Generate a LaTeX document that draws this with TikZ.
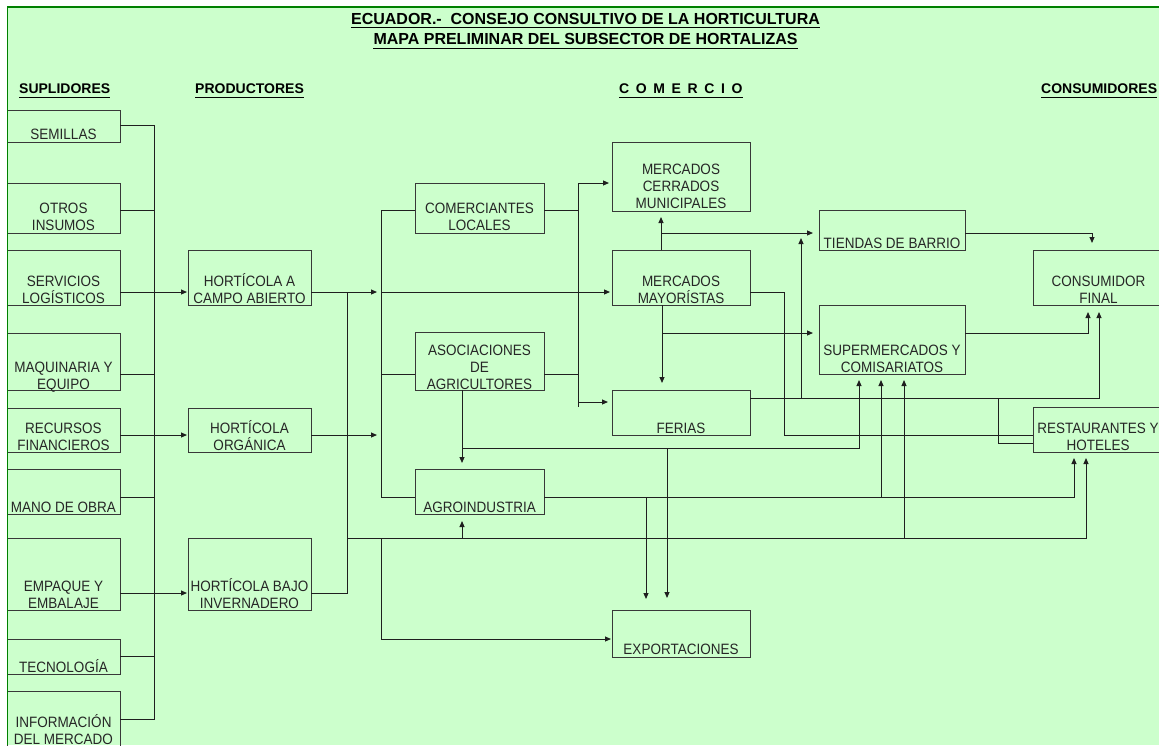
\documentclass[tikz,border=0pt]{standalone}
\usepackage{fontspec}
\setmainfont{Liberation Sans}
\newfontfamily\boxfont[FakeStretch=0.9]{Liberation Sans}
\usetikzlibrary{arrows.meta}
\definecolor{bg}{HTML}{CCFFCC}
\definecolor{frame}{HTML}{008000}
\definecolor{ink}{HTML}{262626}
\definecolor{edge}{HTML}{383838}
\newcommand\mkbox[5]{\node[box, minimum width={(#4)-(#2)}, minimum height={(#5)-(#3)}] (#1) at ({((#2)+(#4))/2},{((#3)+(#5))/2}) {};}
% #3 is the baseline of the LAST line of the text
\newcommand\mktext[4]{\node[txt] (#1-t) at (#2,#3) {#4};}
\tikzset{
  box/.style={draw=edge, line width=1pt, rectangle, inner sep=0pt, outer sep=0pt},
  txt/.style={anchor=base, align=center, text=ink, inner sep=0pt, font=\boxfont\fontsize{15}{17}\selectfont},
  hdr/.style={anchor=base west, inner sep=0pt, text=black, font=\bfseries\fontsize{14}{16}\selectfont},
  ttl/.style={anchor=base, inner sep=0pt, text=black, font=\bfseries\fontsize{16}{20}\selectfont},
  ulline/.style={draw=black, line width=1.4pt},
  conn/.style={draw=black!88, line width=1pt},
  arr/.style={conn, -{Triangle[length=6pt,width=5pt]}, shorten >=2pt},
  arrv/.style={arr, shorten >=6pt},
}
\begin{document}
\begin{tikzpicture}[x=1pt,y=-1pt]
\useasboundingbox (0,0) rectangle (1159,745);
\fill[white] (0,0) rectangle (1159,745);
\fill[bg] (7,6) rectangle (1159,745);

% column coordinates
\coordinate (busS) at (154,0);
\coordinate (busP) at (347,0);
\coordinate (busC) at (381,0);
\coordinate (busM) at (578,0);
\coordinate (colA) at (462,0);
\coordinate (colMC) at (661,0);
\coordinate (colFE) at (662,0);
\coordinate (colMR) at (784,0);
\coordinate (colT) at (801,0);
\coordinate (colR) at (998,0);
\coordinate (colE1) at (646,0);
\coordinate (colE2) at (667,0);
\coordinate (colS1) at (859,0);
\coordinate (colS2) at (881,0);
\coordinate (colS3) at (904,0);
\coordinate (colR1) at (1074,0);
\coordinate (colR2) at (1086,0);
\coordinate (colC0) at (1092,0);
\coordinate (colC1) at (1088,0);
\coordinate (colC2) at (1099,0);
\coordinate (tieL) at (801,238);

% boxes
\mkbox{sem}{7}{110}{120}{142}
\mkbox{otr}{7}{183}{120}{233}
\mkbox{ser}{7}{250}{120}{305}
\mkbox{maq}{7}{333}{120}{390}
\mkbox{rec}{7}{408}{120}{452}
\mkbox{man}{7}{469}{120}{514}
\mkbox{emp}{7}{538}{120}{610}
\mkbox{tec}{7}{639}{120}{674}
\mkbox{inf}{7}{691}{120}{760}
\mkbox{hca}{188}{250}{311}{305}
\mkbox{hor}{188}{408}{311}{452}
\mkbox{hbi}{188}{538}{311}{610}
\mkbox{com}{415}{183}{544}{233}
\mkbox{mcm}{612}{142}{750}{211}
\mkbox{mmy}{612}{250}{750}{305}
\mkbox{aso}{415}{332}{544}{390}
\mkbox{fer}{612}{390}{750}{435}
\mkbox{agr}{415}{469}{544}{514}
\mkbox{exp}{612}{610}{750}{657}
\mkbox{tie}{819}{210}{965}{250}
\mkbox{cfi}{1033}{250}{1164}{305}
\mkbox{sup}{819}{305}{965}{374}
\mkbox{res}{1033}{407}{1164}{452}

% box texts
\mktext{sem}{63.5}{139}{SEMILLAS}
\mktext{otr}{63.5}{230}{OTROS\\INSUMOS}
\mktext{ser}{63.5}{303}{SERVICIOS\\LOGÍSTICOS}
\mktext{maq}{63.5}{389}{MAQUINARIA Y\\EQUIPO}
\mktext{rec}{63.5}{450}{RECURSOS\\FINANCIEROS}
\mktext{man}{63.5}{512}{MANO DE OBRA}
\mktext{emp}{63.5}{608}{EMPAQUE Y\\EMBALAJE}
\mktext{tec}{63.5}{672}{TECNOLOGÍA}
\mktext{inf}{63.5}{744}{INFORMACIÓN\\DEL MERCADO}
\mktext{hca}{249.5}{303}{HORTÍCOLA A\\CAMPO ABIERTO}
\mktext{hor}{249.5}{450}{HORTÍCOLA\\ORGÁNICA}
\mktext{hbi}{249.5}{608}{HORTÍCOLA BAJO\\INVERNADERO}
\mktext{com}{479.5}{230}{COMERCIANTES\\LOCALES}
\mktext{mcm}{681}{208}{MERCADOS\\CERRADOS\\MUNICIPALES}
\mktext{mmy}{681}{303}{MERCADOS\\MAYORÍSTAS}
\mktext{aso}{479.5}{389}{ASOCIACIONES\\DE\\AGRICULTORES}
\mktext{fer}{681}{433}{FERIAS}
\mktext{agr}{479.5}{512}{AGROINDUSTRIA}
\mktext{exp}{681}{654}{EXPORTACIONES}
\mktext{tie}{892}{248}{TIENDAS DE BARRIO}
\mktext{cfi}{1098.5}{303}{CONSUMIDOR\\FINAL}
\mktext{sup}{892}{372}{SUPERMERCADOS Y\\COMISARIATOS}
\mktext{res}{1098}{450}{RESTAURANTES Y\\HOTELES}

% frame
\draw[frame, line width=2pt] (7,7) -- (1159,7);
\draw[frame, line width=1.5pt] (7.5,6) -- (7.5,745);

% title
\node[ttl] (t1) at (585.5,24) {ECUADOR.-\ \ CONSEJO CONSULTIVO DE LA HORTICULTURA};
\node[ttl] (t2) at (585.5,44) {MAPA PRELIMINAR DEL SUBSECTOR DE HORTALIZAS};
\draw[ulline] ([yshift=-3pt]t1.south west) -- ([yshift=-3pt]t1.south east);
\draw[ulline] ([yshift=-4pt]t2.south west) -- ([yshift=-4pt]t2.south east);

% headers
\node[hdr] (h1) at (19,93) {SUPLIDORES};
\node[hdr] (h2) at (195,93) {PRODUCTORES};
\node[hdr] (h3) at (619,93) {\spaceskip=6.6pt\relax C O M E R C I O};
\node[hdr] (h4) at (1041,93) {CONSUMIDORES};
\foreach \h in {h1,h2,h3,h4}
  \draw[ulline] ([yshift=-4pt]\h.south west) -- ([yshift=-4pt]\h.south east);

% suppliers to producers
\draw[conn] (sem.east|-0,125) -- (busS|-0,125) -- (busS|-0,719) -- (inf.east|-0,719);
\draw[conn] (otr.east|-0,210) -- (busS|-0,210);
\draw[arr, shorten >=1pt] (ser.east|-0,292) -- (hca.west|-0,292);
\draw[conn] (maq.east|-0,374) -- (busS|-0,374);
\draw[arr, shorten >=1pt] (rec.east|-0,435) -- (hor.west|-0,435);
\draw[conn] (man.east|-0,497) -- (busS|-0,497);
\draw[arr, shorten >=1pt] (emp.east|-0,593) -- (hbi.west|-0,593);
\draw[conn] (tec.east|-0,656) -- (busS|-0,656);

% producers to commerce
\draw[arr, shorten >=4pt] (hca.east|-0,292) -- (busC|-0,292);
\draw[arr] (busC|-0,292) -- (mmy.west|-0,292);
\draw[conn] (busP|-0,292) -- (busP|-0,593) -- (hbi.east|-0,593);
\draw[arr, shorten >=4pt] (hor.east|-0,435) -- (busC|-0,435);
\draw[conn] (com.west|-0,210) -- (busC|-0,210) -- (busC|-0,497) -- (agr.west|-0,497);
\draw[conn] (aso.west|-0,374) -- (busC|-0,374);
\draw[arrv] (busP|-0,538) -- (colR2|-0,538) -- (colR2|-res.south);
\draw[arr, shorten >=1pt] (busC|-0,538) -- (busC|-0,639) -- (exp.west|-0,639);
\draw[arrv, shorten >=7pt] (colA|-0,538) -- (colA|-agr.south);
\draw[arrv] (colS3|-0,538) -- (colS3|-sup.south);

% commerce
\draw[conn] (com.east|-0,210) -- (busM|-0,210);
\draw[conn] (aso.east|-0,374) -- (busM|-0,374);
\draw[conn] (busM|-0,183) -- (busM|-0,407);
\draw[arr, shorten >=3pt] (busM|-0,183) -- (mcm.west|-0,183);
\draw[arr, shorten >=4pt] (busM|-0,402) -- (fer.west|-0,402);
\draw[arrv] (colMC|-mmy.north) -- (colMC|-mcm.south);
\draw[arrv] (colMC|-0,233) -- (tie.west|-0,233);
\draw[arrv, shorten >=7pt] (colFE|-mmy.south) -- (colFE|-fer.north);
\draw[arrv] (colFE|-0,333) -- (sup.west|-0,333);
\draw[conn] (mmy.east|-0,292) -- (colMR|-0,292) -- (colMR|-0,435) -- (res.west|-0,435);
\draw[arrv] (colA|-aso.south) -- (colA|-agr.north);
\draw[arrv] (colA|-0,448) -- (colS1|-0,448) -- (colS1|-sup.south);
\draw[arr, shorten >=12pt] (colE2|-0,448) -- (colE2|-exp.north);
\draw[arrv] (agr.east|-0,497) -- (colR1|-0,497) -- (colR1|-res.south);
\draw[arr, shorten >=11pt] (colE1|-0,497) -- (colE1|-exp.north);
\draw[arrv] (colS2|-0,497) -- (colS2|-sup.south);

% to consumers
\draw[arrv, shorten >=7pt] (tie.east|-0,233) -- (colC0|-0,233) -- (colC0|-cfi.north);
\draw[arrv, shorten >=7pt] (sup.east|-0,333) -- (colC1|-0,333) -- (colC1|-cfi.south);
\draw[arrv, shorten >=7pt] (fer.east|-0,398) -- (colC2|-0,398) -- (colC2|-cfi.south);
\draw[arr, shorten >=0pt] (colT|-0,398) -- (tieL);
\draw[conn] (colR|-0,398) -- (colR|-0,443) -- (res.west|-0,443);
\end{tikzpicture}
\end{document}
